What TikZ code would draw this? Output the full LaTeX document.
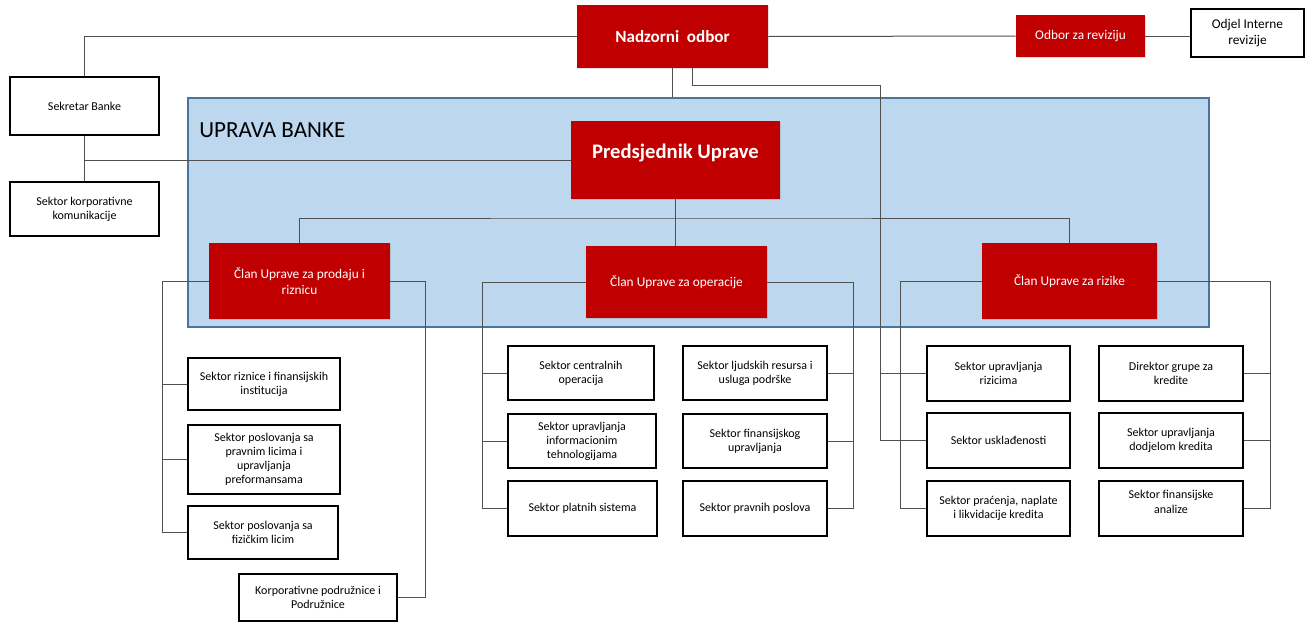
\documentclass[tikz,border=0pt]{standalone}
\usepackage{fontspec}
\setmainfont{Carlito}
\usetikzlibrary{shadows}

\definecolor{upravared}{RGB}{192,0,0}
\definecolor{upravablue}{RGB}{189,215,238}
\definecolor{upravaedge}{RGB}{75,115,155}
\definecolor{linegray}{RGB}{80,80,80}

\tikzset{
  redbox/.style={fill=upravared, text=white, align=center, inner sep=2pt,
    drop shadow={opacity=0.25, shadow xshift=1pt, shadow yshift=-1pt}},
  whitebox/.style={draw=black, line width=1.1pt, fill=white, align=center, inner sep=2pt,
    font=\fontsize{9}{10.6}\selectfont},
  conn/.style={draw=linegray, line width=0.75pt},
  sz/.style 2 args={minimum width=#1*0.75pt, minimum height=#2*0.75pt},
}

\begin{document}
\begin{tikzpicture}[x=0.75pt, y=-0.75pt]
    \useasboundingbox (0,0) rectangle (1309,625);

    % uprava banke frame
    \node[draw=upravaedge, line width=1pt, fill=upravablue, sz={1021}{229}] (uprava) at (698.5,212.5) {};
    \node[anchor=base west, inner sep=0pt, font=\fontsize{17.3}{20}\selectfont] (upravatitle) at (199,137) {UPRAVA BANKE};

    % board level
    \node[redbox, sz={191}{63}, font=\bfseries\fontsize{12.8}{15}\selectfont] (nadzor) at (672.5,36.5) {Nadzorni~ odbor};
    \node[redbox, sz={129}{42}, font=\fontsize{10}{12}\selectfont] (reviz) at (1080.5,36) {Odbor za reviziju};
    \node[whitebox, sz={113}{48}, font=\fontsize{10}{12}\selectfont] (odjel) at (1247.5,33) {Odjel Interne\\revizije};
    \node[whitebox, sz={149}{58}] (sekretar) at (84.5,106) {Sekretar Banke};
    \node[whitebox, sz={149}{54}] (komunik) at (84.5,209) {Sektor korporativne\\komunikacije};

    % uprava
    \node[redbox, sz={209}{78}, text depth=13.5pt, font=\bfseries\fontsize{15.5}{18}\selectfont] (predsj) at (675.5,160) {Predsjednik Uprave};
    \node[redbox, sz={181}{76}, font=\fontsize{10}{12}\selectfont] (clanP) at (299.5,281) {Član Uprave za prodaju i\\riznicu};
    \node[redbox, sz={181}{72}, font=\fontsize{10}{12}\selectfont] (clanO) at (676.5,282) {Član Uprave za operacije};
    \node[redbox, sz={175}{76}, font=\fontsize{10}{12}\selectfont] (clanR) at (1069.5,281) {Član Uprave za rizike};

    % prodaja i riznica
    \node[whitebox, sz={152}{52}] (riznice) at (264,384) {Sektor riznice i finansijskih\\institucija};
    \node[whitebox, sz={152}{69}] (pravna) at (264,459.5) {Sektor poslovanja sa\\pravnim licima i\\upravljanja\\preformansama};
    \node[whitebox, sz={150}{53}] (fizicka) at (263,532.5) {Sektor poslovanja sa\\fizičkim licim};
    \node[whitebox, sz={158}{47}] (podruz) at (318,597.5) {Korporativne podružnice i\\Podružnice};

    % operacije
    \node[whitebox, sz={146}{54}] (central) at (581,373) {Sektor centralnih\\operacija};
    \node[whitebox, sz={148}{54}] (infoteh) at (582,441) {Sektor upravljanja\\informacionim\\tehnologijama};
    \node[whitebox, sz={149}{55}] (platni) at (582.5,508.5) {Sektor platnih sistema};
    \node[whitebox, sz={144}{54}] (ljudski) at (755,373) {Sektor ljudskih resursa i\\usluga podrške};
    \node[whitebox, sz={144}{54}] (finupr) at (755,441) {Sektor finansijskog\\upravljanja};
    \node[whitebox, sz={144}{55}] (pravni) at (755,508.5) {Sektor pravnih poslova};

    % rizici
    \node[whitebox, sz={143}{55}] (rizici) at (998.5,373.5) {Sektor upravljanja\\rizicima};
    \node[whitebox, sz={143}{55}] (uskl) at (998.5,440.5) {Sektor usklađenosti};
    \node[whitebox, sz={143}{55}] (pracenje) at (998.5,508.5) {Sektor praćenja, naplate\\i likvidacije kredita};
    \node[whitebox, sz={144}{55}] (direktor) at (1171,373.5) {Direktor grupe za\\kredite};
    \node[whitebox, sz={144}{55}] (dodjela) at (1171,440.5) {Sektor upravljanja\\dodjelom kredita};
    \node[whitebox, sz={144}{55}, text depth=10pt] (analiza) at (1171,508.5) {Sektor finansijske\\analize};

    % nadzorni odbor
    \draw[conn] (nadzor.west) -| (sekretar.north);
    \draw[conn] (nadzor.east) -- (reviz.west);
    \draw[conn] (reviz.east) -- (reviz.east -| odjel.west);
    \draw[conn] (nadzor.south) -- (nadzor.south |- uprava.north);
    \coordinate (nadzorbus) at (880,85);
    \draw[conn] ([xshift=15pt]nadzor.south) |- (nadzorbus) |- (uskl.west);
    \draw[conn] (nadzorbus |- rizici.west) -- (rizici.west);

    % sekretar
    \draw[conn] (sekretar.south) -- (komunik.north);
    \draw[conn] (sekretar.south |- predsj.west) -- (predsj.west);

    % predsjednik -> clanovi
    \coordinate (predsjbus) at (678,218);
    \draw[conn] (predsj.south) -- (predsj.south |- clanO.north);
    \draw[conn] (clanP.north) |- (predsjbus) -| (clanR.north);

    % prodaja i riznica
    \coordinate (prodajaL) at (162,281);
    \draw[conn] (clanP.west) -- (prodajaL) |- (fizicka.west);
    \foreach \n in {riznice, pravna}
        \draw[conn] (prodajaL |- \n.west) -- (\n.west);
    \coordinate (prodajaR) at (425,281);
    \draw[conn] (clanP.east) -- (prodajaR) |- (podruz.east);

    % operacije
    \coordinate (operL) at (482,282);
    \draw[conn] (clanO.west) -- (operL) |- (platni.west);
    \foreach \n in {central, infoteh}
        \draw[conn] (operL |- \n.west) -- (\n.west);
    \coordinate (operR) at (853,282);
    \draw[conn] (clanO.east) -- (operR) |- (pravni.east);
    \foreach \n in {ljudski, finupr}
        \draw[conn] (operR |- \n.east) -- (\n.east);

    % rizici
    \coordinate (rizikL) at (900,281);
    \draw[conn] (clanR.west) -- (rizikL) |- (pracenje.west);
    \coordinate (rizikR) at (1270,281);
    \draw[conn] (clanR.east) -- (rizikR) |- (analiza.east);
    \foreach \n in {direktor, dodjela}
        \draw[conn] (rizikR |- \n.east) -- (\n.east);
\end{tikzpicture}
\end{document}
